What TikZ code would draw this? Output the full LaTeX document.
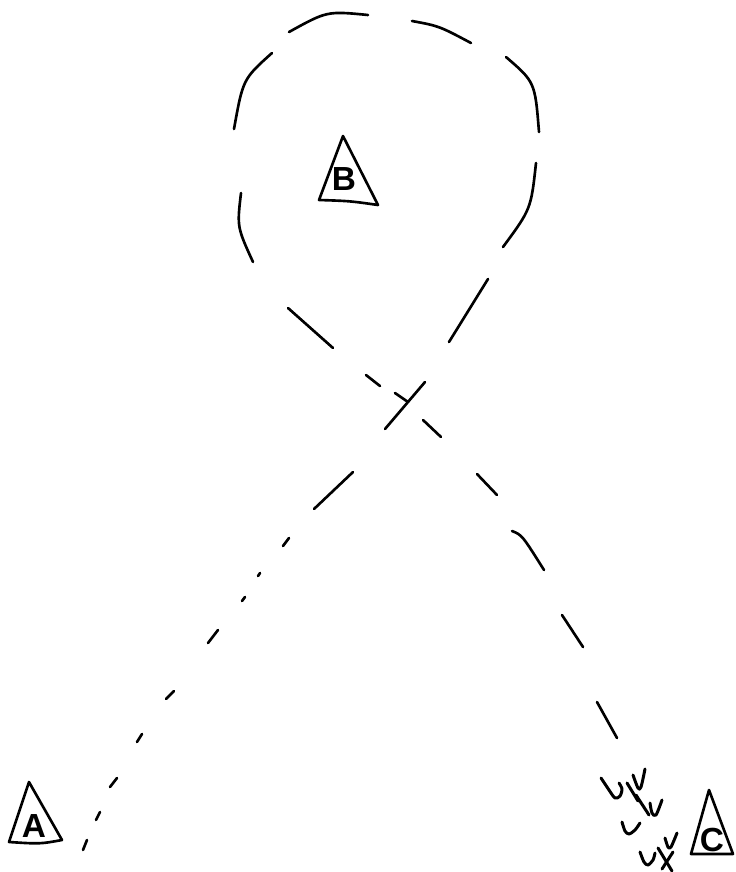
\documentclass[tikz,border=0pt]{standalone}
\usepackage{fontspec}
\setsansfont{Liberation Sans}

\begin{document}
\begin{tikzpicture}[
        x=0.02cm, y=-0.02cm,
        pen/.style={
            line width=1.5pt,
            line cap=round,
            line join=round
        },
        scribble/.style={
            line width=1.7pt,
            line cap=round,
            line join=round
        },
        site/.style={
            font=\sffamily\bfseries\fontsize{19}{19}\selectfont,
            inner sep=0pt
        }
    ]

    \useasboundingbox (0,0) rectangle (736,872);

    \draw[pen] (29,782) -- (62,840) .. controls (40,844) .. (9,842) -- cycle;
    \node[site] (siteA) at (34,826) {A};

    \draw[pen] (343,136) -- (378,205) .. controls (350,201) .. (319,200) -- cycle;
    \node[site] (siteB) at (344,179) {B};

    \draw[pen] (709,790) -- (733,854) -- (691,854) -- cycle;
    \node[site] (siteC) at (712,840) {C};

    \draw[pen] (289,32) .. controls (327,11) .. (368,15);
    \draw[pen] (412,21) .. controls (439,26) .. (471,43);
    \draw[pen] (506,57) .. controls (535,82) .. (539,132);
    \draw[pen] (536,163) .. controls (531,209) .. (503,247);
    \draw[pen] (488,279) -- (449,342);
    \draw[pen] (272,53) .. controls (243,79) .. (234,129);
    \draw[pen] (241,193) .. controls (237,227) .. (253,262);
    \draw[pen] (288,308) -- (333,348);

    \draw[pen] (366,375) -- (380,386);
    \draw[pen] (395,393) -- (408,402);
    \draw[pen] (385,429) -- (425,382);
    \draw[pen] (423,420) -- (441,437);

    \draw[pen] (477,474) -- (497,495);
    \draw[pen] (512,531) .. controls (522,535) .. (544,570);
    \draw[pen] (562,615) -- (583,647);
    \draw[pen] (597,702) -- (617,738);

    \draw[pen] (314,509) -- (353,472);
    \draw[pen] (283,546) -- (289,538);
    \draw[pen] (258,576) -- (260,573);
    \draw[pen] (242,601) -- (245,597);
    \draw[pen] (208,643) -- (218,630);
    \draw[pen] (166,699) -- (174,691);
    \draw[pen] (137,742) -- (142,734);
    \draw[pen] (110,787) -- (117,778);
    \draw[pen] (96,820) -- (100,812);
    \draw[pen] (83,850) -- (87,840);

    \draw[scribble] plot[smooth] coordinates {(601,778) (609,790) (615,798) (620,796) (622,789) (619,783)};
    \draw[scribble] (627,783) -- (638,801);
    \draw[scribble] plot[smooth] coordinates {(633,775) (638,788) (641,787) (645,769)};
    \draw[scribble] (636,795) -- (649,815);
    \draw[scribble] plot[smooth] coordinates {(650,803) (652,813) (656,815) (662,800)};
    \draw[scribble] plot[smooth] coordinates {(622,822) (625,831) (629,834) (635,830) (640,823)};
    \draw[scribble] plot[smooth] coordinates {(640,852) (644,862) (648,865) (653,860) (655,853)};
    \draw[scribble] (658,848) -- (672,871);
    \draw[scribble] (662,869) -- (673,852);
    \draw[scribble] plot[smooth] coordinates {(665,838) (668,847) (671,847) (677,833)};

\end{tikzpicture}
\end{document}
